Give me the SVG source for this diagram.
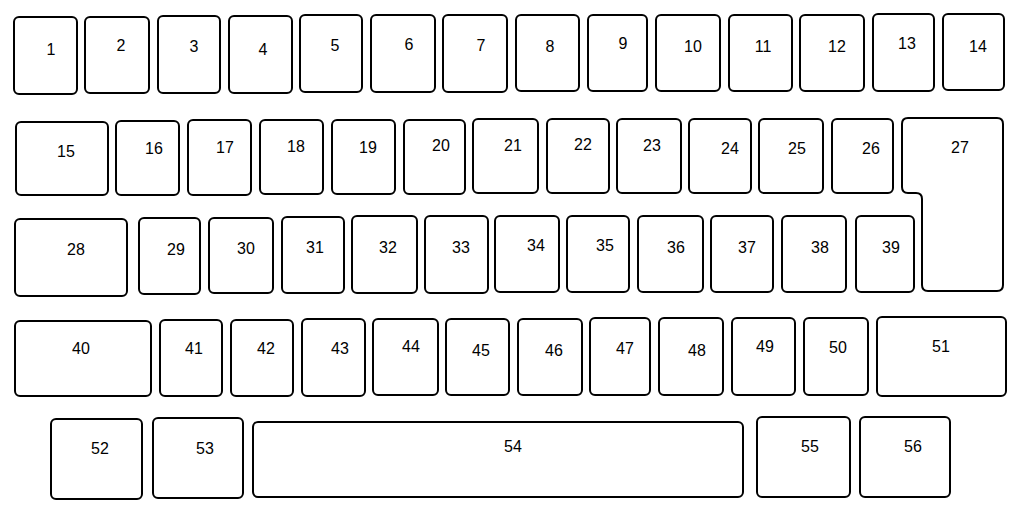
<svg xmlns="http://www.w3.org/2000/svg" width="1024" height="516" viewBox="0 0 1024 516">
<style>
.k{fill:#fff;stroke:#000;stroke-width:2}
text{font-family:"Liberation Sans",Arial,sans-serif;font-size:16px;fill:#000;text-anchor:middle}
</style>
<rect width="1024" height="516" fill="#fff"/>
<g id="k1"><rect class="k" x="14" y="17" width="63" height="77" rx="5"/><text x="51" y="55">1</text></g>
<g id="k2"><rect class="k" x="85" y="17" width="64" height="76" rx="5"/><text x="121" y="51">2</text></g>
<g id="k3"><rect class="k" x="158" y="16" width="62" height="77" rx="5"/><text x="194" y="52">3</text></g>
<g id="k4"><rect class="k" x="229" y="16" width="63" height="77" rx="5"/><text x="263" y="55">4</text></g>
<g id="k5"><rect class="k" x="300" y="15" width="62" height="77" rx="5"/><text x="335" y="51">5</text></g>
<g id="k6"><rect class="k" x="371" y="15" width="64" height="77" rx="5"/><text x="409" y="50">6</text></g>
<g id="k7"><rect class="k" x="443" y="15" width="64" height="77" rx="5"/><text x="481" y="51">7</text></g>
<g id="k8"><rect class="k" x="516" y="15" width="63" height="76" rx="5"/><text x="550" y="52">8</text></g>
<g id="k9"><rect class="k" x="588" y="15" width="59" height="76" rx="5"/><text x="623" y="49">9</text></g>
<g id="k10"><rect class="k" x="656" y="15" width="64" height="76" rx="5"/><text x="693" y="52">10</text></g>
<g id="k11"><rect class="k" x="729" y="15" width="63" height="76" rx="5"/><text x="763" y="52">11</text></g>
<g id="k12"><rect class="k" x="800" y="15" width="64" height="76" rx="5"/><text x="837" y="52">12</text></g>
<g id="k13"><rect class="k" x="873" y="14" width="61" height="77" rx="5"/><text x="907" y="49">13</text></g>
<g id="k14"><rect class="k" x="943" y="14" width="61" height="76" rx="5"/><text x="978" y="52">14</text></g>

<g id="k15"><rect class="k" x="16" y="122" width="92" height="73" rx="5"/><text x="66" y="157">15</text></g>
<g id="k16"><rect class="k" x="116" y="121" width="63" height="74" rx="5"/><text x="154" y="154">16</text></g>
<g id="k17"><rect class="k" x="188" y="120" width="63" height="75" rx="5"/><text x="225" y="153">17</text></g>
<g id="k18"><rect class="k" x="260" y="120" width="63" height="74" rx="5"/><text x="296" y="152">18</text></g>
<g id="k19"><rect class="k" x="332" y="120" width="63" height="74" rx="5"/><text x="368" y="153">19</text></g>
<g id="k20"><rect class="k" x="404" y="120" width="61" height="74" rx="5"/><text x="441" y="151">20</text></g>
<g id="k21"><rect class="k" x="473" y="119" width="65" height="74" rx="5"/><text x="513" y="151">21</text></g>
<g id="k22"><rect class="k" x="547" y="119" width="62" height="74" rx="5"/><text x="583" y="150">22</text></g>
<g id="k23"><rect class="k" x="617" y="119" width="64" height="74" rx="5"/><text x="652" y="151">23</text></g>
<g id="k24"><rect class="k" x="689" y="119" width="62" height="74" rx="5"/><text x="730" y="154">24</text></g>
<g id="k25"><rect class="k" x="759" y="119" width="64" height="74" rx="5"/><text x="797" y="154">25</text></g>
<g id="k26"><rect class="k" x="832" y="119" width="61" height="74" rx="5"/><text x="871" y="154">26</text></g>
<g id="k27"><path class="k" d="M908,118 H997 Q1003,118 1003,124 V285 Q1003,291 997,291 H928 Q922,291 922,285 V199 Q922,193 916,193 H908 Q902,193 902,187 V124 Q902,118 908,118 Z"/><text x="960" y="153">27</text></g>

<g id="k28"><rect class="k" x="15" y="219" width="112" height="77" rx="5"/><text x="76" y="255">28</text></g>
<g id="k29"><rect class="k" x="139" y="218" width="61" height="76" rx="5"/><text x="176" y="255">29</text></g>
<g id="k30"><rect class="k" x="209" y="218" width="64" height="75" rx="5"/><text x="246" y="254">30</text></g>
<g id="k31"><rect class="k" x="282" y="217" width="62" height="76" rx="5"/><text x="315" y="253">31</text></g>
<g id="k32"><rect class="k" x="352" y="216" width="65" height="77" rx="5"/><text x="388" y="253">32</text></g>
<g id="k33"><rect class="k" x="425" y="216" width="63" height="77" rx="5"/><text x="461" y="253">33</text></g>
<g id="k34"><rect class="k" x="495" y="216" width="64" height="76" rx="5"/><text x="536" y="251">34</text></g>
<g id="k35"><rect class="k" x="567" y="216" width="62" height="76" rx="5"/><text x="605" y="251">35</text></g>
<g id="k36"><rect class="k" x="638" y="216" width="65" height="76" rx="5"/><text x="676" y="253">36</text></g>
<g id="k37"><rect class="k" x="711" y="216" width="62" height="76" rx="5"/><text x="747" y="253">37</text></g>
<g id="k38"><rect class="k" x="782" y="216" width="64" height="76" rx="5"/><text x="820" y="253">38</text></g>
<g id="k39"><rect class="k" x="856" y="216" width="58" height="76" rx="5"/><text x="891" y="253">39</text></g>

<g id="k40"><rect class="k" x="15" y="321" width="136" height="75" rx="5"/><text x="81" y="354">40</text></g>
<g id="k41"><rect class="k" x="160" y="320" width="62" height="76" rx="5"/><text x="194" y="354">41</text></g>
<g id="k42"><rect class="k" x="231" y="320" width="62" height="76" rx="5"/><text x="266" y="354">42</text></g>
<g id="k43"><rect class="k" x="302" y="319" width="63" height="77" rx="5"/><text x="340" y="354">43</text></g>
<g id="k44"><rect class="k" x="373" y="319" width="65" height="76" rx="5"/><text x="411" y="352">44</text></g>
<g id="k45"><rect class="k" x="446" y="319" width="63" height="76" rx="5"/><text x="481" y="356">45</text></g>
<g id="k46"><rect class="k" x="518" y="319" width="64" height="76" rx="5"/><text x="554" y="356">46</text></g>
<g id="k47"><rect class="k" x="590" y="318" width="60" height="77" rx="5"/><text x="625" y="354">47</text></g>
<g id="k48"><rect class="k" x="659" y="318" width="64" height="77" rx="5"/><text x="697" y="356">48</text></g>
<g id="k49"><rect class="k" x="732" y="318" width="63" height="77" rx="5"/><text x="765" y="352">49</text></g>
<g id="k50"><rect class="k" x="804" y="318" width="64" height="77" rx="5"/><text x="838" y="353">50</text></g>
<g id="k51"><rect class="k" x="877" y="317" width="129" height="79" rx="5"/><text x="941" y="352">51</text></g>

<g id="k52"><rect class="k" x="51" y="419" width="91" height="80" rx="5"/><text x="100" y="454">52</text></g>
<g id="k53"><rect class="k" x="153" y="418" width="90" height="80" rx="5"/><text x="205" y="454">53</text></g>
<g id="k54"><rect class="k" x="253" y="422" width="490" height="75" rx="5"/><text x="513" y="452">54</text></g>
<g id="k55"><rect class="k" x="757" y="417" width="93" height="80" rx="5"/><text x="810" y="452">55</text></g>
<g id="k56"><rect class="k" x="860" y="417" width="90" height="80" rx="5"/><text x="913" y="452">56</text></g>
<g id="connectors"/>
</svg>
